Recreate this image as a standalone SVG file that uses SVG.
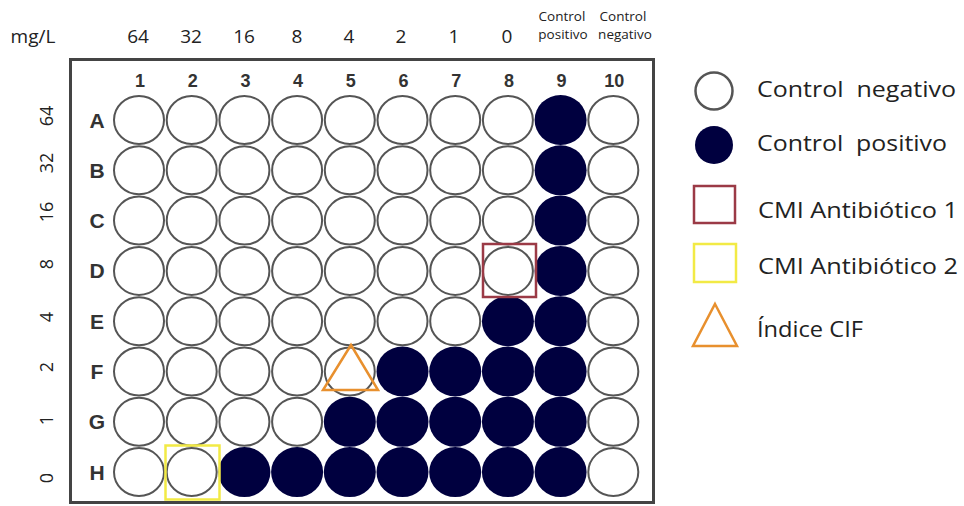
<svg xmlns="http://www.w3.org/2000/svg" width="964" height="506" viewBox="0 0 964 506">
<style>
text{font-family:"Liberation Sans",Arial,sans-serif;fill:#222}
.top{font-family:"Open Sans","Liberation Sans",sans-serif;font-size:19px;text-anchor:middle}
.ctl{font-family:"Open Sans","Liberation Sans",sans-serif;font-size:13.5px;text-anchor:middle}
.col{font-size:18px;font-weight:bold;text-anchor:middle;fill:#333}
.row{font-size:21px;font-weight:bold;text-anchor:middle;fill:#333}
.side{font-family:"Open Sans","Liberation Sans",sans-serif;font-size:18px;text-anchor:middle}
.leg{font-family:"Open Sans","Liberation Sans",sans-serif;font-size:21px}
.w{fill:#fff;stroke:#555;stroke-width:2}
.f{fill:#00003f;stroke:none}
</style>
<rect width="964" height="506" fill="#fff"/>
<g id="header">
<text class="top" x="33" y="43">mg/L</text>
<text class="top" x="138" y="43">64</text>
<text class="top" x="191" y="43">32</text>
<text class="top" x="244" y="43">16</text>
<text class="top" x="297" y="43">8</text>
<text class="top" x="349" y="43">4</text>
<text class="top" x="401" y="43">2</text>
<text class="top" x="454" y="43">1</text>
<text class="top" x="507" y="43">0</text>
<text class="ctl" x="562" y="21">Control</text>
<text class="ctl" x="563" y="39">positivo</text>
<text class="ctl" x="623" y="21">Control</text>
<text class="ctl" x="625" y="39">negativo</text>
</g>
<g id="side-labels">
<text class="side" transform="translate(53,116) rotate(-90)">64</text>
<text class="side" transform="translate(53,163) rotate(-90)">32</text>
<text class="side" transform="translate(53,212) rotate(-90)">16</text>
<text class="side" transform="translate(53,264) rotate(-90)">8</text>
<text class="side" transform="translate(53,317) rotate(-90)">4</text>
<text class="side" transform="translate(53,367) rotate(-90)">2</text>
<text class="side" transform="translate(53,420) rotate(-90)">1</text>
<text class="side" transform="translate(53,478) rotate(-90)">0</text>
</g>
<g id="plate">
<rect x="70.5" y="59.5" width="583" height="443" fill="#fff" stroke="#444" stroke-width="3"/>
<g id="col-numbers">
<text class="col" x="140" y="87">1</text>
<text class="col" x="192.7" y="87">2</text>
<text class="col" x="245.4" y="87">3</text>
<text class="col" x="298.1" y="87">4</text>
<text class="col" x="350.8" y="87">5</text>
<text class="col" x="403.5" y="87">6</text>
<text class="col" x="456.2" y="87">7</text>
<text class="col" x="508.9" y="87">8</text>
<text class="col" x="561.6" y="87">9</text>
<text class="col" x="614.3" y="87">10</text>
</g>
<g id="row-letters">
<text class="row" x="97" y="128">A</text>
<text class="row" x="97" y="178">B</text>
<text class="row" x="97" y="228">C</text>
<text class="row" x="97" y="278">D</text>
<text class="row" x="97" y="329">E</text>
<text class="row" x="97" y="379">F</text>
<text class="row" x="97" y="429">G</text>
<text class="row" x="97" y="480">H</text>
</g>
<g id="row-A">
<ellipse class="w" cx="139" cy="120" rx="25" ry="24"/><ellipse class="w" cx="191.7" cy="120" rx="25" ry="24"/><ellipse class="w" cx="244.4" cy="120" rx="25" ry="24"/><ellipse class="w" cx="297.1" cy="120" rx="25" ry="24"/><ellipse class="w" cx="349.8" cy="120" rx="25" ry="24"/><ellipse class="w" cx="402.5" cy="120" rx="25" ry="24"/><ellipse class="w" cx="455.2" cy="120" rx="25" ry="24"/><ellipse class="w" cx="507.9" cy="120" rx="25" ry="24"/><ellipse class="f" cx="560.6" cy="120" rx="26" ry="25"/><ellipse class="w" cx="613.3" cy="120" rx="25" ry="24"/>
</g>
<g id="row-B">
<ellipse class="w" cx="139" cy="170.3" rx="25" ry="24"/><ellipse class="w" cx="191.7" cy="170.3" rx="25" ry="24"/><ellipse class="w" cx="244.4" cy="170.3" rx="25" ry="24"/><ellipse class="w" cx="297.1" cy="170.3" rx="25" ry="24"/><ellipse class="w" cx="349.8" cy="170.3" rx="25" ry="24"/><ellipse class="w" cx="402.5" cy="170.3" rx="25" ry="24"/><ellipse class="w" cx="455.2" cy="170.3" rx="25" ry="24"/><ellipse class="w" cx="507.9" cy="170.3" rx="25" ry="24"/><ellipse class="f" cx="560.6" cy="170.3" rx="26" ry="25"/><ellipse class="w" cx="613.3" cy="170.3" rx="25" ry="24"/>
</g>
<g id="row-C">
<ellipse class="w" cx="139" cy="220.6" rx="25" ry="24"/><ellipse class="w" cx="191.7" cy="220.6" rx="25" ry="24"/><ellipse class="w" cx="244.4" cy="220.6" rx="25" ry="24"/><ellipse class="w" cx="297.1" cy="220.6" rx="25" ry="24"/><ellipse class="w" cx="349.8" cy="220.6" rx="25" ry="24"/><ellipse class="w" cx="402.5" cy="220.6" rx="25" ry="24"/><ellipse class="w" cx="455.2" cy="220.6" rx="25" ry="24"/><ellipse class="w" cx="507.9" cy="220.6" rx="25" ry="24"/><ellipse class="f" cx="560.6" cy="220.6" rx="26" ry="25"/><ellipse class="w" cx="613.3" cy="220.6" rx="25" ry="24"/>
</g>
<g id="row-D">
<ellipse class="w" cx="139" cy="270.9" rx="25" ry="24"/><ellipse class="w" cx="191.7" cy="270.9" rx="25" ry="24"/><ellipse class="w" cx="244.4" cy="270.9" rx="25" ry="24"/><ellipse class="w" cx="297.1" cy="270.9" rx="25" ry="24"/><ellipse class="w" cx="349.8" cy="270.9" rx="25" ry="24"/><ellipse class="w" cx="402.5" cy="270.9" rx="25" ry="24"/><ellipse class="w" cx="455.2" cy="270.9" rx="25" ry="24"/><ellipse class="w" cx="507.9" cy="270.9" rx="25" ry="24"/><ellipse class="f" cx="560.6" cy="270.9" rx="26" ry="25"/><ellipse class="w" cx="613.3" cy="270.9" rx="25" ry="24"/>
</g>
<g id="row-E">
<ellipse class="w" cx="139" cy="321.2" rx="25" ry="24"/><ellipse class="w" cx="191.7" cy="321.2" rx="25" ry="24"/><ellipse class="w" cx="244.4" cy="321.2" rx="25" ry="24"/><ellipse class="w" cx="297.1" cy="321.2" rx="25" ry="24"/><ellipse class="w" cx="349.8" cy="321.2" rx="25" ry="24"/><ellipse class="w" cx="402.5" cy="321.2" rx="25" ry="24"/><ellipse class="w" cx="455.2" cy="321.2" rx="25" ry="24"/><ellipse class="f" cx="507.9" cy="321.2" rx="26" ry="25"/><ellipse class="f" cx="560.6" cy="321.2" rx="26" ry="25"/><ellipse class="w" cx="613.3" cy="321.2" rx="25" ry="24"/>
</g>
<g id="row-F">
<ellipse class="w" cx="139" cy="371.5" rx="25" ry="24"/><ellipse class="w" cx="191.7" cy="371.5" rx="25" ry="24"/><ellipse class="w" cx="244.4" cy="371.5" rx="25" ry="24"/><ellipse class="w" cx="297.1" cy="371.5" rx="25" ry="24"/><ellipse class="w" cx="349.8" cy="371.5" rx="25" ry="24"/><ellipse class="f" cx="402.5" cy="371.5" rx="26" ry="25"/><ellipse class="f" cx="455.2" cy="371.5" rx="26" ry="25"/><ellipse class="f" cx="507.9" cy="371.5" rx="26" ry="25"/><ellipse class="f" cx="560.6" cy="371.5" rx="26" ry="25"/><ellipse class="w" cx="613.3" cy="371.5" rx="25" ry="24"/>
</g>
<g id="row-G">
<ellipse class="w" cx="139" cy="421.8" rx="25" ry="24"/><ellipse class="w" cx="191.7" cy="421.8" rx="25" ry="24"/><ellipse class="w" cx="244.4" cy="421.8" rx="25" ry="24"/><ellipse class="w" cx="297.1" cy="421.8" rx="25" ry="24"/><ellipse class="f" cx="349.8" cy="421.8" rx="26" ry="25"/><ellipse class="f" cx="402.5" cy="421.8" rx="26" ry="25"/><ellipse class="f" cx="455.2" cy="421.8" rx="26" ry="25"/><ellipse class="f" cx="507.9" cy="421.8" rx="26" ry="25"/><ellipse class="f" cx="560.6" cy="421.8" rx="26" ry="25"/><ellipse class="w" cx="613.3" cy="421.8" rx="25" ry="24"/>
</g>
<g id="row-H">
<ellipse class="w" cx="139" cy="472.1" rx="25" ry="24"/><ellipse class="w" cx="191.7" cy="472.1" rx="25" ry="24"/><ellipse class="f" cx="244.4" cy="472.1" rx="26" ry="25"/><ellipse class="f" cx="297.1" cy="472.1" rx="26" ry="25"/><ellipse class="f" cx="349.8" cy="472.1" rx="26" ry="25"/><ellipse class="f" cx="402.5" cy="472.1" rx="26" ry="25"/><ellipse class="f" cx="455.2" cy="472.1" rx="26" ry="25"/><ellipse class="f" cx="507.9" cy="472.1" rx="26" ry="25"/><ellipse class="f" cx="560.6" cy="472.1" rx="26" ry="25"/><ellipse class="w" cx="613.3" cy="472.1" rx="25" ry="24"/>
</g>
<g id="markers">
<rect id="cmi1-mark" x="483" y="244" width="53" height="53" fill="none" stroke="#9b3a46" stroke-width="2.5"/>
<rect id="cmi2-mark" x="165.5" y="445.5" width="54" height="54" fill="none" stroke="#f2ea45" stroke-width="2.5"/>
<polygon id="cif-mark" points="351,345 378,390 323,390" fill="none" stroke="#e8902e" stroke-width="2.5" stroke-linejoin="miter"/>
</g>
</g>
<g id="legend">
<g id="leg-neg"><circle cx="714" cy="91" r="18.5" fill="#fff" stroke="#555" stroke-width="2.5"/><text class="leg" x="757" y="97" textLength="199" lengthAdjust="spacingAndGlyphs" xml:space="preserve">Control  negativo</text></g>
<g id="leg-pos"><circle cx="714" cy="145" r="19" fill="#00003f"/><text class="leg" x="757" y="151" textLength="190" lengthAdjust="spacingAndGlyphs" xml:space="preserve">Control  positivo</text></g>
<g id="leg-cmi1"><rect x="694" y="186" width="41" height="37" fill="none" stroke="#9b3a46" stroke-width="2.5"/><text class="leg" x="758" y="218" textLength="200" lengthAdjust="spacingAndGlyphs">CMI Antibiótico 1</text></g>
<g id="leg-cmi2"><rect x="694" y="244" width="42" height="38" fill="none" stroke="#f2ea45" stroke-width="2.5"/><text class="leg" x="758" y="274" textLength="200" lengthAdjust="spacingAndGlyphs">CMI Antibiótico 2</text></g>
<g id="leg-cif"><polygon points="715,304 737,346 693,346" fill="none" stroke="#e8902e" stroke-width="2.5"/><text class="leg" x="757" y="337" textLength="106" lengthAdjust="spacingAndGlyphs">Índice CIF</text></g>
</g>
</svg>
